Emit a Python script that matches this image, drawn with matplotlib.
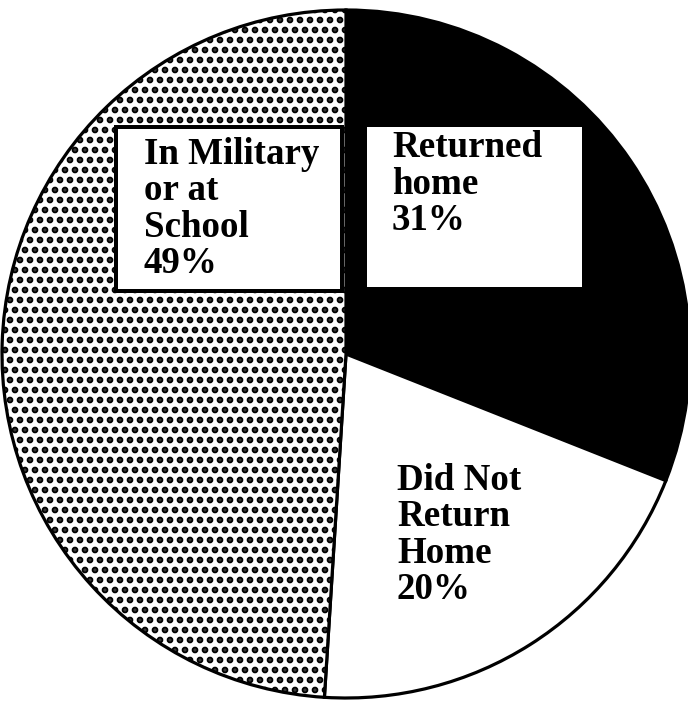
import matplotlib
matplotlib.use('Agg')
import matplotlib.pyplot as plt
from matplotlib.patches import Rectangle

# shares of the pie, clockwise from 12 o'clock
labels = ['Returned\nhome\n31%', 'Did Not\nReturn\nHome\n20%', 'In Military\nor at\nSchool\n49%']
shares = [31, 20, 49]
colors = ['black', 'white', 'white']
hatches = ['', '', '..']

W, H = 688, 705
DPI = 120  # hatch tile is one inch, so this sets the dot spacing


def pt(px):
    # pixels -> points
    return px * 72.0 / DPI


def py(y_top):
    # y measured from the top of the picture -> axes y
    return H - y_top


plt.rcParams['hatch.linewidth'] = pt(4.6)
plt.rcParams['hatch.color'] = 'black'

fig = plt.figure(figsize=(W / DPI, H / DPI), dpi=DPI)
ax = fig.add_axes([0, 0, 1, 1])

wedges, _ = ax.pie(shares, colors=colors, startangle=90, counterclock=False,
                   center=(346, py(354)), radius=344, frame=True,
                   wedgeprops=dict(edgecolor='black', linewidth=pt(3.2)))
for w, h in zip(wedges, hatches):
    w.set_hatch(h)
ax.set_xlim(0, W)
ax.set_ylim(0, H)
ax.set_aspect('auto')
ax.axis('off')

# label boxes
ax.add_patch(Rectangle((116, py(291)), 226, 164, facecolor='white',
                       edgecolor='black', linewidth=pt(4), zorder=3))
ax.add_patch(Rectangle((367, py(287)), 215, 160, facecolor='white',
                       edgecolor='none', zorder=3))

# va='baseline' on multi-line text pins the last line's baseline
font = dict(family='Liberation Serif', weight='bold', size=pt(37),
            ha='left', va='baseline', linespacing=1.05, zorder=4)
ax.text(144, py(273), labels[2], **font)
ax.text(392, py(230), labels[0], **font)
ax.text(397, py(599), labels[1], **font)

fig.savefig('out.png', dpi=DPI)
